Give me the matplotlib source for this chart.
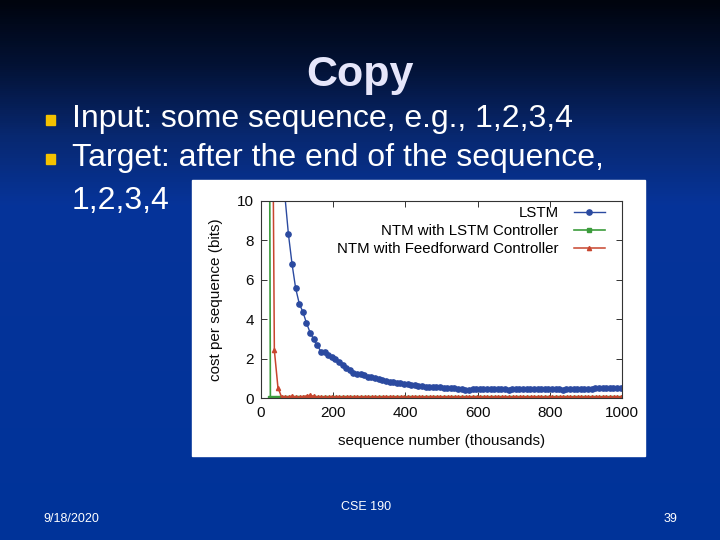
import numpy as np
import matplotlib.pyplot as plt
from matplotlib.patches import Rectangle
from matplotlib.colors import LinearSegmentedColormap

plt.rcParams['font.family'] = ['Liberation Sans', 'DejaVu Sans']

# --- данные графика ---
step = 10  # шаг по оси x, тысячи последовательностей

lstm_start = 66
lstm_cost = [
    10.3, 8.31, 6.80, 5.57, 4.79, 4.37, 3.81, 3.32, 2.98, 2.67,
    2.36, 2.31, 2.20, 2.08, 1.97, 1.84, 1.68, 1.52, 1.40, 1.29,
    1.24, 1.22, 1.17, 1.08, 1.05, 1.00, 0.96, 0.90, 0.86, 0.83,
    0.80, 0.77, 0.75, 0.72, 0.70, 0.67, 0.65, 0.62, 0.60, 0.58,
    0.57, 0.56, 0.55, 0.54, 0.53, 0.52, 0.51, 0.49, 0.48, 0.46,
    0.43, 0.42, 0.44, 0.44, 0.46, 0.45, 0.46, 0.45, 0.46, 0.44,
    0.45, 0.45, 0.43, 0.44, 0.45, 0.44, 0.46, 0.45, 0.44, 0.45,
    0.44, 0.45, 0.44, 0.45, 0.46, 0.44, 0.45, 0.40, 0.44, 0.46,
    0.46, 0.45, 0.47, 0.47, 0.46, 0.47, 0.50, 0.51, 0.52, 0.52,
    0.51, 0.52, 0.53, 0.53,
]

ntm_lstm_start = 16
ntm_lstm_cost = [
    60.0, 0.02, 0.02, 0.01, 0.02, 0.01, 0.02, 0.01, 0.01, 0.02,
    0.01, 0.02, 0.01, 0.01, 0.02, 0.01, 0.01, 0.02, 0.01, 0.01,
    0.02, 0.01, 0.01, 0.02, 0.01, 0.01, 0.02, 0.01, 0.01, 0.02,
    0.01, 0.01, 0.02, 0.01, 0.01, 0.02, 0.01, 0.01, 0.02, 0.01,
    0.01, 0.02, 0.01, 0.01, 0.02, 0.01, 0.01, 0.02, 0.01, 0.01,
    0.02, 0.01, 0.01, 0.02, 0.01, 0.01, 0.02, 0.01, 0.01, 0.02,
    0.01, 0.01, 0.02, 0.01, 0.01, 0.02, 0.01, 0.01, 0.02, 0.01,
    0.01, 0.02, 0.01, 0.01, 0.02, 0.01, 0.01, 0.02, 0.01, 0.01,
    0.02, 0.01, 0.01, 0.02, 0.01, 0.01, 0.02, 0.01, 0.01, 0.02,
    0.01, 0.01, 0.02, 0.01, 0.01, 0.02, 0.01, 0.01, 0.02,
]

ntm_ff_start = 27
ntm_ff_cost = [
    30.0, 2.42, 0.52, 0.05, 0.04, 0.06, 0.09, 0.05, 0.04, 0.07,
    0.11, 0.13, 0.08, 0.05, 0.04,
    0.05, 0.04, 0.05, 0.06, 0.05, 0.04, 0.05, 0.05, 0.04, 0.05,
    0.06, 0.05, 0.04, 0.05, 0.05, 0.04, 0.05, 0.06, 0.05, 0.04,
    0.05, 0.05, 0.04, 0.05, 0.05, 0.06, 0.05, 0.04, 0.05, 0.05,
    0.04, 0.05, 0.05, 0.06, 0.05, 0.04, 0.05, 0.05, 0.04, 0.05,
    0.05, 0.06, 0.05, 0.04, 0.05, 0.05, 0.04, 0.05, 0.05, 0.05,
    0.06, 0.05, 0.04, 0.05, 0.05, 0.04, 0.05, 0.05, 0.06, 0.05,
    0.04, 0.05, 0.05, 0.04, 0.05, 0.05, 0.06, 0.05, 0.04, 0.05,
    0.05, 0.04, 0.05, 0.05, 0.06, 0.05, 0.04, 0.05, 0.05, 0.04,
    0.05, 0.05, 0.04,
]

series_labels = ['LSTM', 'NTM with LSTM Controller', 'NTM with Feedforward Controller']
x_ticks = [0, 200, 400, 600, 800, 1000]
y_ticks = [0, 2, 4, 6, 8, 10]

# --- тексты слайда ---
title = 'Copy'
bullets = ['Input: some sequence, e.g., 1,2,3,4',
           'Target: after the end of the sequence,']
bullet_cont = '1,2,3,4'
footer_date = '9/18/2020'
footer_mid = 'CSE 190'
footer_page = '39'

W, H = 720, 540
fig = plt.figure(figsize=(7.2, 5.4), dpi=100)

# Фон слайда: вертикальный градиент
bg = fig.add_axes([0, 0, 1, 1])
bg.set_axis_off()
grad = np.linspace(0, 1, 540).reshape(-1, 1)
cmap = LinearSegmentedColormap.from_list(
    'slide', [(0, '#00040e'), (0.12, '#031235'), (0.25, '#082870'),
              (0.38, '#06349a'), (1, '#003399')])
bg.imshow(grad, aspect='auto', cmap=cmap, extent=[0, 1, 0, 1])
bg.set_xlim(0, 1)
bg.set_ylim(0, 1)


def fy(py):
    return 1 - py / H


# Заголовок и пункты
fig.text(360 / W, fy(86), title, ha='center', va='baseline',
         fontsize=31, fontweight='bold', color='#e6e6fa')
for i, (txt, base) in enumerate(zip(bullets, [127, 166])):
    fig.text(72 / W, fy(base), txt, ha='left', va='baseline', fontsize=23, color='white')
    bg.add_patch(Rectangle((46 / W, fy(base - 2)), 9 / W, 10 / H,
                           transform=fig.transFigure, color='#f4c200'))
fig.text(72 / W, fy(209), bullet_cont, ha='left', va='baseline', fontsize=23, color='white')

# Подвал
fig.text(43 / W, fy(522), footer_date, ha='left', va='baseline', fontsize=9, color='white')
fig.text(366 / W, fy(510), footer_mid, ha='center', va='baseline', fontsize=9, color='white')
fig.text(670 / W, fy(522), footer_page, ha='center', va='baseline', fontsize=9, color='white')

# Белая подложка под график (рисуется на фоновой оси, под графиком)
bg.add_patch(Rectangle((192 / W, fy(456)), 453 / W, 276 / H,
                       transform=fig.transFigure, color='white', zorder=5))

# --- сам график ---
ax = fig.add_axes([261 / W, fy(398), 361 / W, 197 / H])
ax.set_zorder(2)
ax.set_facecolor('white')

x_lstm = lstm_start + step * np.arange(len(lstm_cost))
x_g = ntm_lstm_start + step * np.arange(len(ntm_lstm_cost))
x_r = ntm_ff_start + step * np.arange(len(ntm_ff_cost))

l_g, = ax.plot(x_g, ntm_lstm_cost, color='#3c9c3c', marker='s', ms=3.0, lw=1.2)
l_r, = ax.plot(x_r, ntm_ff_cost, color='#c8452e', marker='^', ms=3.0, lw=1.1)
l_b, = ax.plot(x_lstm, lstm_cost, color='#2b4aa0', marker='o', ms=3.8, lw=1.0)

ax.set_xlim(0, 1000)
ax.set_ylim(0, 10)
ax.set_xticks(x_ticks)
ax.set_yticks(y_ticks)
ax.tick_params(direction='in', top=True, right=True, length=4, width=0.7,
               labelsize=11, labelcolor='#0a0a0a', color='#333333')
ax.tick_params(axis='x', pad=6)
ax.tick_params(axis='y', pad=5)
for sp in ax.spines.values():
    sp.set_color('#333333')
    sp.set_linewidth(0.8)

ax.set_xlabel('sequence number (thousands)', fontsize=11, color='#0a0a0a', labelpad=10)
ax.set_ylabel('cost per sequence (bits)', fontsize=11, color='#0a0a0a', labelpad=10)

ax.legend([l_b, l_g, l_r], series_labels, loc='upper right', frameon=False,
          markerfirst=False, fontsize=10.8, handlelength=2.1, handletextpad=1.0,
          labelspacing=0.27, borderpad=0, borderaxespad=0,
          bbox_to_anchor=(1 - 17 / 361, 1 - 5 / 197))

plt.savefig('out.png', dpi=100)
